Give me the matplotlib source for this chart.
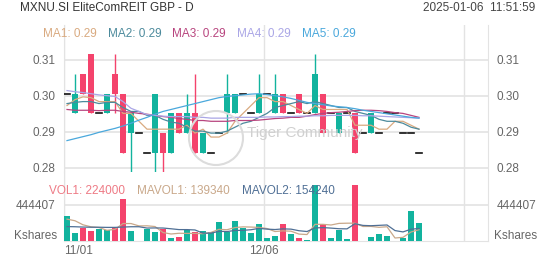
import numpy as np
import matplotlib.pyplot as plt
from matplotlib.ticker import FormatStrFormatter
from matplotlib.patches import Circle

plt.rcParams['font.family'] = ['Liberation Sans', 'DejaVu Sans']

# daily candles, 11/01 .. 01/06 (45 sessions)
opens = [.300, .295, .305, .310, .295, .295, .305, .300, .290, .290, .285, .285, .290, .285, .295,
         .290, .295, .285, .285, .290, .295, .295, .300, .295, .295, .300, .295, .300, .295, .300,
         .295, .295, .300, .295, .290, .295, .295, .290, .290, .290, .295, .295, .290, .290, .285]
highs = [.300, .305, .305, .310, .295, .300, .310, .300, .295, .290, .285, .300, .290, .295, .295,
         .300, .305, .290, .285, .290, .305, .300, .300, .295, .305, .300, .305, .300, .295, .300,
         .295, .310, .300, .295, .295, .295, .295, .290, .295, .290, .295, .295, .290, .290, .285]
lows = [.300, .295, .300, .295, .295, .295, .295, .285, .280, .290, .285, .280, .280, .285, .290,
        .290, .285, .285, .285, .290, .290, .295, .300, .295, .295, .300, .295, .295, .295, .295,
        .295, .295, .290, .295, .290, .295, .285, .290, .290, .290, .295, .295, .290, .290, .285]
closes = [.300, .300, .300, .295, .295, .300, .300, .285, .295, .290, .285, .300, .285, .295, .290,
          .295, .285, .290, .285, .290, .300, .300, .300, .295, .300, .300, .300, .295, .295, .295,
          .295, .305, .290, .295, .295, .295, .285, .290, .295, .290, .295, .295, .290, .290, .285]
volumes = [308600, 94600, 156400, 123500, 148100, 135800, 156400, 514400, 123500, 0,
           144000, 111100, 144000, 32900, 45300, 135800, 111100, 123500, 115200, 234600,
           111100, 246900, 164600, 102900, 214000, 41200, 61700, 205800, 82300, 37000,
           12300, 691300, 205800, 41200, 135800, 24700, 693400, 0, 45300, 82300,
           58000, 0, 41000, 373700, 224000]

# moving averages
ma1 = [.2970, .2985, .2992, .2990, .2980, .2980, .2980, .2950, .2950, .2930, .2910, .2910, .2910, .2910, .2910,
       .2920, .2900, .2910, .2890, .2890, .2900, .2930, .2950, .2970, .2990, .2990, .2980, .2980, .2970, .2960,
       .2950, .2970, .2960, .2960, .2960, .2960, .2920, .2920, .2920, .2910, .2910, .2930, .2930, .2920, .2910]
ma2 = [.2975, .2978, .2980, .2980, .2975, .2978, .2978, .2965, .2955, .2955, .2945, .2945, .2935, .2928, .2925,
       .2915, .2905, .2905, .2900, .2900, .2905, .2915, .2925, .2930, .2940, .2950, .2965, .2970, .2975, .2980,
       .2975, .2980, .2975, .2970, .2965, .2965, .2955, .2950, .2945, .2935, .2930, .2930, .2925, .2915, .2910]
ma3 = [.2960, .2958, .2958, .2958, .2957, .2958, .2958, .2955, .2953, .2950, .2948, .2945, .2942, .2940, .2937,
       .2935, .2932, .2932, .2930, .2930, .2930, .2932, .2932, .2932, .2933, .2935, .2937, .2938, .2940, .2940,
       .2943, .2947, .2950, .2952, .2953, .2955, .2957, .2958, .2958, .2957, .2955, .2952, .2950, .2945, .2940]
ma4 = [.3008, .3005, .3003, .3000, .2997, .2995, .2993, .2980, .2963, .2955, .2947, .2945, .2943, .2942, .2942,
       .2942, .2940, .2940, .2938, .2938, .2938, .2940, .2940, .2940, .2940, .2941, .2941, .2942, .2942, .2943,
       .2943, .2944, .2944, .2945, .2945, .2945, .2945, .2944, .2944, .2943, .2942, .2941, .2940, .2939, .2938]
ma5 = [.2881, .2886, .2891, .2896, .2902, .2907, .2912, .2918, .2925, .2933, .2940, .2948, .2955, .2960, .2965,
       .2970, .2975, .2980, .2985, .2990, .2993, .2995, .2997, .2999, .3000, .2998, .2995, .2992, .2988, .2983,
       .2978, .2975, .2972, .2969, .2967, .2965, .2962, .2958, .2955, .2952, .2949, .2946, .2943, .2940, .2938]
mavol1 = [270000, 250000, 200000, 175000, 166200, 131700, 144000, 215600, 215600, 186000,
          187700, 178600, 104500, 86400, 95500, 93800, 93800, 89700, 106200, 144000,
          139100, 166300, 174500, 172000, 167900, 153900, 116900, 125100, 121000, 85600,
          79800, 205700, 205700, 197500, 217300, 219800, 220200, 179000, 179800, 169100,
          175800, 37100, 45300, 111000, 139340]
mavol2 = [178000, 176000, 172000, 170000, 170000, 168000, 168000, 172000, 176000, 176100,
          159700, 161300, 160100, 151000, 140700, 140700, 136200, 97100, 96300, 119800,
          116500, 130000, 132100, 139100, 156000, 146500, 141600, 149800, 146500, 126800,
          116900, 161300, 165400, 159300, 151400, 149800, 213000, 192400, 188700, 193200,
          197800, 128700, 112200, 145400, 154240]

tick_idx = [0, 25]
tick_labels = ['11/01', '12/06']
price_ticks = [0.3086, 0.2995, 0.2904, 0.2812]
vol_tick = 444407

up_c, dn_c = '#12b39e', '#f4436c'
ma_colors = ['#d9aa80', '#4c8a9c', '#b8457f', '#aaa6e6', '#4aa8dc']
grid_c = '#e3e3e3'
lab_c = '#666666'

W, H = 552, 265
fig = plt.figure(figsize=(W / 100, H / 100), dpi=100)


def rect(x0, y0, x1, y1):
    return [x0 / W, 1 - y1 / H, (x1 - x0) / W, (y1 - y0) / H]


ax = fig.add_axes(rect(64, 25, 488, 172))
axv = fig.add_axes(rect(64, 172, 488, 241), sharex=ax)

x = np.arange(len(closes))
bw = 0.75

# candles
for i in x:
    o, h, l, c = opens[i], highs[i], lows[i], closes[i]
    if o == c:
        ax.plot([i - bw / 2, i + bw / 2], [c, c], color='#111111', lw=1.2, zorder=4)
        continue
    col = up_c if c > o else dn_c
    ax.vlines(i, l, h, color=col, lw=1, zorder=3)
    ax.bar(i, abs(c - o), bottom=min(o, c), width=bw, color=col, zorder=3)

for m, col in zip([ma1, ma2, ma3, ma4, ma5], ma_colors):
    ax.plot(x, m, color=col, lw=0.9, zorder=5)

# volume
vcol = [up_c if closes[i] >= opens[i] else dn_c for i in x]
axv.bar(x, volumes, width=bw, color=vcol, zorder=3)
axv.plot(x, mavol1, color='#c9a88a', lw=0.9, zorder=4)
axv.plot(x, mavol2, color='#4f6f95', lw=0.9, zorder=4)

ax.set_xlim(-0.375, 52.625)
ax.set_ylim(0.28013, 0.31744)
axv.set_ylim(0, 851780)

for a in (ax, axv):
    for s in a.spines.values():
        s.set_color(grid_c)
    a.spines['top'].set_visible(False)
    a.tick_params(length=0, labelsize=8.5, labelcolor=lab_c, labelleft=True, labelright=True)
    for gx in (-0.375, 24.625, 49.625):
        a.axvline(gx, color=grid_c, lw=1, zorder=0)
ax.spines['bottom'].set_visible(False)

ax.set_yticks(price_ticks)
ax.yaxis.set_major_formatter(FormatStrFormatter('%.2f'))
ax.tick_params(axis='y', pad=6)
ax.grid(axis='y', color=grid_c, lw=1.2, zorder=0)
ax.tick_params(axis='x', labelbottom=False)

axv.set_yticks([vol_tick])
axv.set_yticklabels([str(vol_tick)])
axv.tick_params(axis='y', pad=6)
axv.grid(axis='y', color=grid_c, lw=1.2, zorder=0)
axv.set_xticks([])
for ti, tl in zip(tick_idx, tick_labels):
    ha = 'left' if ti == 0 else 'center'
    axv.text(ti - 0.375, -0.06, tl, transform=axv.get_xaxis_transform(), ha=ha, va='top',
             fontsize=8.5, color=lab_c)

# headers
fig.text(20 / W, 1 - 8 / H, 'MXNU.SI EliteComREIT GBP - D', fontsize=8.5, color='#333333', va='center')
fig.text(535 / W, 1 - 8 / H, '2025-01-06  11:51:59', fontsize=8.5, color='#444444', va='center', ha='right')
for k, (m, col) in enumerate(zip([ma1, ma2, ma3, ma4, ma5], ma_colors)):
    fig.text((43 + 64.7 * k) / W, 1 - 34 / H, 'MA%d: %.2f' % (k + 1, m[-1]), fontsize=8.5,
             color=col, va='center')
fig.text(49 / W, 1 - 191 / H, 'VOL1: %d' % volumes[-1], fontsize=8.5, color='#ee7a85', va='center')
fig.text(137 / W, 1 - 191 / H, 'MAVOL1: %d' % mavol1[-1], fontsize=8.5, color='#c9a88a', va='center')
fig.text(242 / W, 1 - 191 / H, 'MAVOL2: %d' % mavol2[-1], fontsize=8.5, color='#4f6f95', va='center')
fig.text(57 / W, 1 - 236 / H, 'Kshares', fontsize=8.5, color=lab_c, va='center', ha='right')
fig.text(494 / W, 1 - 236 / H, 'Kshares', fontsize=8.5, color=lab_c, va='center', ha='left')

# watermark
fig.text(247 / W, 1 - 133 / H, 'Tiger Community', fontsize=11, color='#d0d0d0', va='center', zorder=0)
fig.patches.append(Circle((216 / W * W, (H - 138)), 27, transform=None, fill=False,
                          ec='#dcdcdc', lw=1.5, zorder=0))

fig.savefig('out.png', dpi=100)
